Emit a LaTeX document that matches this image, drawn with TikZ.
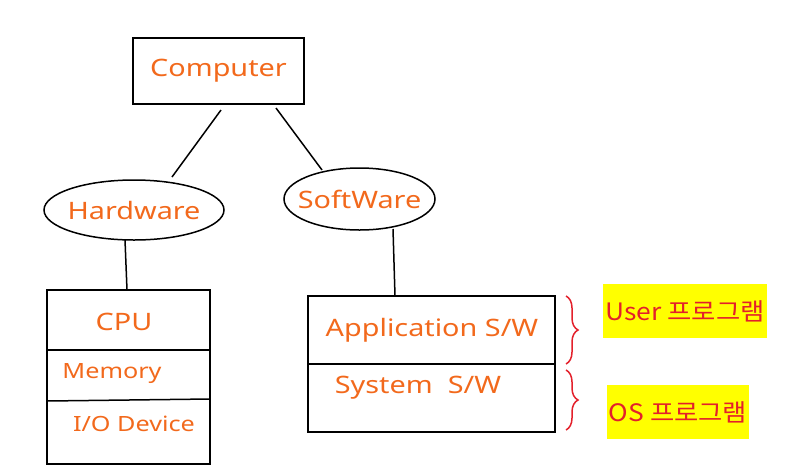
\documentclass[tikz,border=0pt]{standalone}
\usepackage{fontspec}
\setmainfont{Noto Sans}[FakeStretch=1.2]
\newfontfamily\krfont{Noto Sans CJK KR}[FakeStretch=1.1]
\usetikzlibrary{decorations.pathreplacing,shapes.geometric}
\definecolor{orng}{HTML}{F2691C}
\definecolor{redtxt}{HTML}{E3202B}
\definecolor{hlyellow}{HTML}{FFFF00}
\tikzset{
  lbl/.style={text=orng, font=\fontsize{24}{28}\selectfont},
  lbls/.style={text=orng, font=\fontsize{21}{25}\selectfont},
  ell/.style={draw, line width=1.5pt, ellipse, inner sep=0pt},
  ln/.style={line width=1.5pt, black},
  brc/.style={redtxt, line width=1.5pt, decorate, decoration={brace, amplitude=12pt}},
  note/.style={fill=hlyellow, text=redtxt, font=\krfont\fontsize{24}{28}\selectfont, inner xsep=2pt, inner ysep=0pt, minimum height=54pt}
}
\begin{document}
\begin{tikzpicture}[x=1pt,y=-1pt]
\useasboundingbox (0,0) rectangle (797,472);
% top node
\node[draw, line width=1.5pt, minimum width=171pt, minimum height=66pt] (comp) at (218.5,71) {};
\node[lbl] (compt) at (comp) {Computer};
\node[ell, minimum width=180pt, minimum height=60pt] (hw) at (134,210) {};
\node[lbl] (hwt) at (hw) {Hardware};
\node[ell, minimum width=151pt, minimum height=62pt] (sw) at (359.5,199) {};
\node[lbl] (swt) at (sw) {SoftWare};
\coordinate (c1) at (221,110);
\coordinate (h1) at (172,177);
\coordinate (c2) at (276,108);
\coordinate (s1) at (322,170);
\draw[ln] (c1) -- (h1);
\draw[ln] (c2) -- (s1);
% left box
\coordinate (lt) at (127,290);
\coordinate (hb) at (125,240);
\draw[ln] (47,290) rectangle (210,464);
\draw[ln] (47,350) -- (210,350);
\draw[ln] (47,401) -- (210,399);
\draw[ln] (hb) -- (lt);
\node[lbl] (cpu) at (124,322) {CPU};
\node[lbls] (mem) at (112,374) {Memory};
\node[lbls] (io) at (134,424) {I/O Device};
% right box
\coordinate (rt) at (395,296);
\coordinate (sb) at (393,229);
\draw[ln] (308,296) rectangle (555,432);
\draw[ln] (308,364) -- (555,364);
\draw[ln] (sb) -- (rt);
\node[lbl] (app) at (432,330) {Application S/W};
\node[lbl] (sys) at (418,388) {System\ \ S/W};
% braces
\coordinate (b1t) at (566,296);
\coordinate (b1b) at (566,364);
\coordinate (b2t) at (566,370);
\coordinate (b2b) at (566,430);
\draw[brc] (b1t) -- (b1b);
\draw[brc] (b2t) -- (b2b);
% notes
\node[note] (user) at (685,311) {User 프로그램};
\node[note] (os) at (678,412) {OS 프로그램};
\end{tikzpicture}
\end{document}
